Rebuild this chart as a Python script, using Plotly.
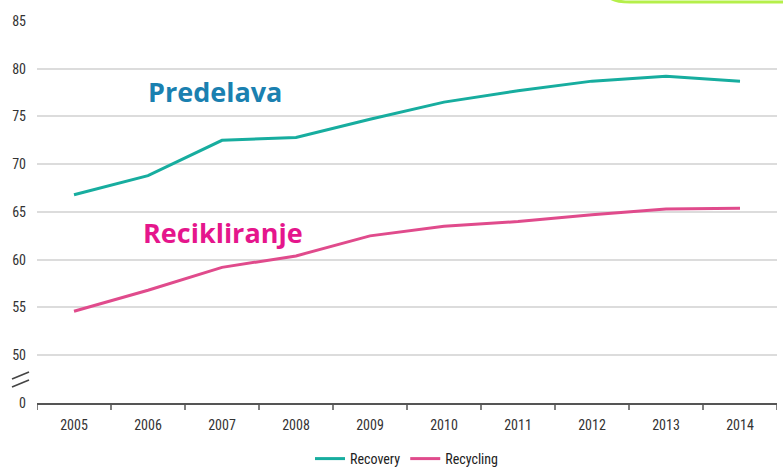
import plotly.graph_objects as go

years = [2005, 2006, 2007, 2008, 2009, 2010, 2011, 2012, 2013, 2014]
recovery = [66.8, 68.8, 72.5, 72.8, 74.7, 76.5, 77.7, 78.7, 79.2, 78.7]
recycling = [54.6, 56.8, 59.2, 60.4, 62.5, 63.5, 64.0, 64.7, 65.3, 65.4]
y_tickvals = [45, 50, 55, 60, 65, 70, 75, 80, 85]
y_ticktext = ["0", "50", "55", "60", "65", "70", "75", "80", "85"]

font_fam = "Liberation Sans Narrow, Roboto Condensed, Liberation Sans, Arial"

W, H = 783, 468
L, R, T, B = 37, 6, 20, 65
pw, ph = W - L - R, H - T - B


def px(x):
    return (x - L) / pw


def py(y):
    return (H - B - y) / ph


fig = go.Figure()
fig.add_trace(go.Scatter(x=years, y=recovery, mode="lines", name="Recovery",
                         line=dict(color="#17ad9f", width=3)))
fig.add_trace(go.Scatter(x=years, y=recycling, mode="lines", name="Recycling",
                         line=dict(color="#e04b8c", width=3)))

fig.update_layout(
    width=W, height=H,
    margin=dict(l=L, r=R, t=T, b=B, autoexpand=False),
    paper_bgcolor="white", plot_bgcolor="white",
    font=dict(family=font_fam, size=14, color="#333333"),
    showlegend=True,
    legend=dict(orientation="h", x=0.5, xanchor="center", yref="container",
                y=1 - 459 / H, yanchor="middle",
                font=dict(size=14, color="#222222"), tracegroupgap=0),
    xaxis=dict(range=[2004.5, 2014.5], tickmode="array", tickvals=years,
               ticktext=[str(y) for y in years], showgrid=False, zeroline=False,
               showline=True, linecolor="#555555", linewidth=1.5, automargin=False,
               ticks="", ticklabelstandoff=8, tickfont=dict(size=14, color="#333333")),
    yaxis=dict(range=[45, 85.1], tickmode="array", tickvals=y_tickvals, ticktext=y_ticktext,
               showgrid=True, gridcolor="#dcdcdc", gridwidth=2, zeroline=False,
               showline=False, ticks="", ticklabelstandoff=10, automargin=False,
               tickfont=dict(size=14, color="#333333")),
)

# category boundary tick marks on x-axis
for b in [2004.5 + i for i in range(11)]:
    fig.add_shape(type="line", xref="x", yref="paper", x0=b, x1=b, y0=0, y1=-0.018,
                  line=dict(color="#555555", width=1.5))

# axis break symbol (two slanted strokes)
for (x0, y0, x1, y1) in [(12, 379, 29, 372), (12, 387, 29, 380)]:
    fig.add_shape(type="line", xref="paper", yref="paper",
                  x0=px(x0), y0=py(y0), x1=px(x1), y1=py(y1),
                  line=dict(color="#444444", width=1.6))

fig.add_annotation(x=2006.9, y=77.6, text="<b>Predelava</b>", showarrow=False,
                   font=dict(family="Open Sans, Lato, sans-serif", size=27, color="#1a80b0"))
fig.add_annotation(x=2007.02, y=62.9, text="<b>Recikliranje</b>", showarrow=False,
                   font=dict(family="Open Sans, Lato, sans-serif", size=27, color="#e5168c"))

# green rounded frame partly visible at top right
fig.add_shape(type="path", xref="paper", yref="paper",
              path=(f"M {px(606)} {py(-30)} L {px(606)} {py(-8)} "
                    f"Q {px(608)} {py(2)} {px(630)} {py(2)} "
                    f"L {px(800)} {py(2)}"),
              line=dict(color="#b5ef4a", width=3))

fig.write_html("out.html", config={"displayModeBar": False},
               post_script="document.body.style.margin='0px';document.body.style.overflow='hidden';")
